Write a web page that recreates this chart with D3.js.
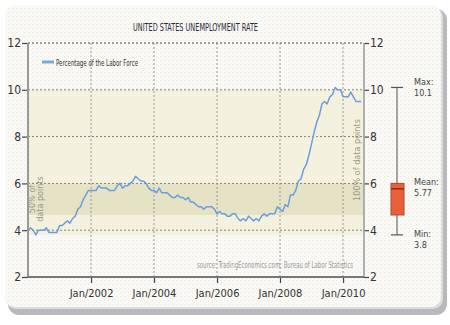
<!DOCTYPE html>
<html><head><meta charset="utf-8">
<script src="https://cdn.jsdelivr.net/npm/d3@7/dist/d3.min.js"></script>
<style>html,body{margin:0;padding:0;background:#fff;}svg{display:block;}</style>
</head><body>
<script>
// ---- data ----
const startYear = 2000;
const rates = [
  // 2000
  4.0,4.1,4.0,3.8,4.0,4.0,4.0,4.1,3.9,3.9,3.9,3.9,
  // 2001
  4.2,4.2,4.3,4.4,4.3,4.5,4.6,4.9,5.0,5.3,5.5,5.7,
  // 2002
  5.7,5.7,5.7,5.9,5.8,5.8,5.8,5.7,5.7,5.7,5.9,6.0,
  // 2003
  5.8,5.9,5.9,6.0,6.1,6.3,6.2,6.1,6.1,6.0,5.8,5.7,
  // 2004
  5.7,5.6,5.8,5.6,5.6,5.6,5.5,5.4,5.4,5.5,5.4,5.4,
  // 2005
  5.3,5.4,5.2,5.2,5.1,5.0,5.0,4.9,5.0,5.0,5.0,4.9,
  // 2006
  4.7,4.8,4.7,4.7,4.6,4.6,4.7,4.7,4.5,4.4,4.5,4.4,
  // 2007
  4.6,4.5,4.4,4.5,4.4,4.6,4.7,4.6,4.7,4.7,4.7,5.0,
  // 2008
  4.9,4.8,5.1,5.0,5.5,5.5,5.7,6.1,6.2,6.6,6.8,7.2,
  // 2009
  7.7,8.2,8.6,8.9,9.4,9.5,9.4,9.7,9.8,10.1,10.0,10.0,
  // 2010
  9.7,9.7,9.7,9.9,9.7,9.5,9.5,9.5
];
const yTicks = [2,4,6,8,10,12];
const xTickYears = [2002,2004,2006,2008,2010];
const stats = {max:10.1, mean:5.77, min:3.8, q1:4.65, q3:6.0};
const title = "UNITED STATES UNEMPLOYMENT RATE";
const legendLabel = "Percentage of the Labor Force";
const sourceText = "source: TradingEconomics.com; Bureau of Labor Statistics";

// ---- layout ----
const W = 450, H = 325;
const font = "'Liberation Sans Narrow','DejaVu Sans Condensed',sans-serif";
const svg = d3.select("body").append("svg").attr("width",W).attr("height",H);
const defs = svg.append("defs");
const pat = defs.append("pattern").attr("id","dots").attr("width",4).attr("height",4).attr("patternUnits","userSpaceOnUse");
pat.append("rect").attr("width",4).attr("height",4).attr("fill","#f9f9f8");
pat.append("rect").attr("x",0).attr("y",0).attr("width",1).attr("height",1).attr("fill","#f5e4cc");
pat.append("rect").attr("x",2).attr("y",2).attr("width",1).attr("height",1).attr("fill","#f7efe4");

// card + shadow
svg.append("rect").attr("x",8).attr("y",9).attr("width",439).attr("height",306).attr("rx",11).attr("fill","#b9b9bd");
svg.append("rect").attr("x",6).attr("y",7).attr("width",437).attr("height",302).attr("rx",10).attr("fill","#dcdcde");
svg.append("rect").attr("x",5).attr("y",5).attr("width",436).attr("height",302).attr("rx",10).attr("fill","url(#dots)");

const x0 = 28, x1 = 364, yTop = 43, yBot = 277;
const parse = (y,m) => new Date(y, m, 1);
const x = d3.scaleTime().domain([parse(2000,0), parse(2010,8)]).range([x0,x1]);
const y = d3.scaleLinear().domain([2,12]).range([yBot,yTop]);
const data = rates.map((v,i) => ({date: parse(startYear + Math.floor(i/12), i%12), v}));

// bands
svg.append("rect").attr("x",x0).attr("width",x1-x0)
  .attr("y",y(10.0)).attr("height",y(stats.min)-y(10.0)).attr("fill","#f4f0dc").attr("opacity",0.9);
svg.append("rect").attr("x",x0).attr("width",x1-x0)
  .attr("y",y(stats.q3)).attr("height",y(stats.q1)-y(stats.q3)).attr("fill","#e6e2c5");

// grid
const g = svg.append("g");
g.selectAll(".hg").data(yTicks.filter(t=>t>2)).join("line")
  .attr("x1",x0).attr("x2",x1).attr("y1",d=>y(d)).attr("y2",d=>y(d))
  .attr("stroke","#808080").attr("stroke-width",1).attr("stroke-dasharray","2,2");
g.selectAll(".vg").data(xTickYears).join("line")
  .attr("x1",d=>x(parse(d,0))).attr("x2",d=>x(parse(d,0))).attr("y1",yTop).attr("y2",yBot)
  .attr("stroke","#999").attr("stroke-width",1).attr("stroke-dasharray","2,2");

// percentile labels
svg.append("text").attr("transform",`translate(35,199) rotate(-90)`).attr("text-anchor","middle")
  .attr("font-family",font).attr("font-size",9).attr("fill","#9a9a88").text("50% of");
svg.append("text").attr("transform",`translate(43,199) rotate(-90)`).attr("text-anchor","middle")
  .attr("font-family",font).attr("font-size",9).attr("fill","#9a9a88").text("data points");
svg.append("text").attr("transform",`translate(360,160) rotate(-90)`).attr("text-anchor","middle")
  .attr("font-family",font).attr("font-size",9).attr("fill","#9a9a88").text("100% of data points");

// source
svg.append("text").attr("x",197).attr("y",268)
  .attr("textLength",156).attr("lengthAdjust","spacingAndGlyphs")
  .attr("font-family",font).attr("font-size",8).attr("fill","#9a9a9a").text(sourceText);

// line
const line = d3.line().x(d=>x(d.date)).y(d=>y(d.v));
svg.append("path").datum(data).attr("d",line).attr("fill","none")
  .attr("stroke","#6a9fdc").attr("stroke-width",1.5).attr("stroke-linejoin","round");

// axes
const left = d3.axisLeft(y).tickValues(yTicks).tickSize(6).tickFormat(d3.format("d"));
const right = d3.axisRight(y).tickValues(yTicks).tickSize(5).tickFormat(d3.format("d"));
const bottom = d3.axisBottom(x).tickValues(xTickYears.map(t=>parse(t,0))).tickSize(6).tickFormat(d3.timeFormat("Jan/%Y"));
function style(sel, fs){
  sel.select(".domain").remove();
  sel.selectAll(".tick line").attr("stroke","#444").attr("stroke-width",1.2);
  sel.selectAll("text").attr("font-family",font).attr("font-size",fs).attr("fill","#333");
}
const ga = svg.append("g").attr("transform",`translate(${x0},0)`).call(left); style(ga,12);
ga.selectAll("text").attr("x",-7);
const gr = svg.append("g").attr("transform",`translate(${x1},0)`).call(right); style(gr,12);
gr.selectAll("text").attr("x",6);
const gb = svg.append("g").attr("transform",`translate(0,${yBot})`).call(bottom); style(gb,11);
gb.selectAll("text").attr("y",12);
svg.append("line").attr("x1",x0).attr("x2",x0).attr("y1",yTop).attr("y2",yBot).attr("stroke","#999").attr("stroke-width",2);
svg.append("line").attr("x1",x1).attr("x2",x1).attr("y1",yTop).attr("y2",yBot).attr("stroke","#999").attr("stroke-width",1.5);
svg.append("line").attr("x1",x0-1).attr("x2",x1).attr("y1",yBot).attr("y2",yBot).attr("stroke","#777").attr("stroke-width",2);
svg.append("line").attr("x1",x0).attr("x2",x1).attr("y1",yTop).attr("y2",yTop)
  .attr("stroke","#808080").attr("stroke-dasharray","2,2");

// title
svg.append("text").attr("x",133).attr("y",31)
  .attr("textLength",125).attr("lengthAdjust","spacingAndGlyphs")
  .attr("font-family",font).attr("font-size",11).attr("fill","#2a2a38").text(title);

// legend
svg.append("line").attr("x1",42).attr("x2",54).attr("y1",62).attr("y2",62).attr("stroke","#7fa8d8").attr("stroke-width",3);
svg.append("text").attr("x",56).attr("y",66)
  .attr("textLength",82).attr("lengthAdjust","spacingAndGlyphs")
  .attr("font-family",font).attr("font-size",9).attr("fill","#333").text(legendLabel);

// box plot
const bx = 397;
svg.append("line").attr("x1",bx).attr("x2",bx).attr("y1",y(stats.max)).attr("y2",y(stats.min)).attr("stroke","#555").attr("stroke-width",1);
[stats.max, stats.min].forEach(v=>svg.append("line").attr("x1",bx-6).attr("x2",bx+6).attr("y1",y(v)).attr("y2",y(v)).attr("stroke","#555").attr("stroke-width",1.2));
svg.append("rect").attr("x",bx-6).attr("width",13).attr("y",y(stats.q3)).attr("height",y(stats.q1)-y(stats.q3))
  .attr("fill","#e8603a").attr("stroke","#b04a2a").attr("stroke-width",1);
svg.append("line").attr("x1",bx-6).attr("x2",bx+7).attr("y1",y(stats.mean)).attr("y2",y(stats.mean)).attr("stroke","#8a3018").attr("stroke-width",1.5);
const lab = [["Max:",stats.max,y(stats.max)-2],["Mean:",stats.mean,y(stats.q3)+2],["Min:",stats.min,y(stats.min)+2]];
lab.forEach(([t,v,yy])=>{
  svg.append("text").attr("x",414).attr("y",yy).attr("font-family",font).attr("font-size",9).attr("fill","#444").text(t);
  svg.append("text").attr("x",414).attr("y",yy+11).attr("font-family",font).attr("font-size",9).attr("fill","#444").text(v);
});
</script>
</body></html>
